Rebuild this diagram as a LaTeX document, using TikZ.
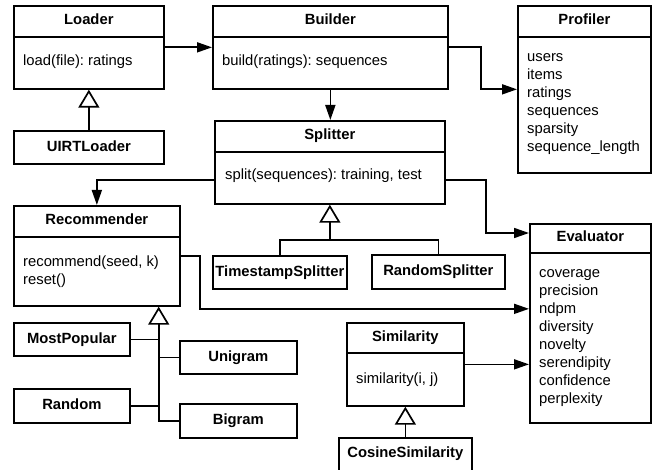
\documentclass[tikz,border=0pt]{standalone}
\usepackage{fontspec}
\setmainfont{Liberation Sans}
\frenchspacing
\usetikzlibrary{arrows.meta}
\begin{document}
\begin{tikzpicture}[x=1pt,y=-1pt,
  every node/.style={font=\fontsize{14.8}{18}\selectfont, inner sep=0pt},
  box/.style={draw, line width=1.7pt, rectangle, anchor=north west, font=\fontsize{14.8}{18}\selectfont\bfseries, text height=10.5pt, text depth=3pt},
  ttl/.style={font=\fontsize{14.8}{18}\selectfont\bfseries, text height=10.5pt, text depth=3pt},
  body/.style={align=left, anchor=base west},
  ln/.style={line width=1.7pt},
  arr/.style={line width=1.7pt, -{Triangle[length=15pt,width=10pt]}},
  inh/.style={line width=1.7pt, -{Triangle[open,length=18pt,width=21pt]}}]
\useasboundingbox (0,0) rectangle (652,470);
\clip (0,0) rectangle (652,470);
\fill[white] (0,0) rectangle (652,470);

% class boxes
\node[box, minimum width=150pt, minimum height=83pt] (loader) at (13,5) {};
\node[box, minimum width=235pt, minimum height=83pt] (builder) at (212,5) {};
\node[box, minimum width=133pt, minimum height=167pt] (profiler) at (517,5) {};
\node[box, minimum width=230pt, minimum height=83pt] (splitter) at (214,120) {};
\node[box, minimum width=166pt, minimum height=100pt] (recommender) at (13,205) {};
\node[box, minimum width=121pt, minimum height=199pt] (evaluator) at (529,223) {};
\node[box, minimum width=117pt, minimum height=83pt] (similarity) at (346,322) {};

% dividers
\draw[ln] ([yshift=-32pt]loader.north west) -- ([yshift=-32pt]loader.north east);
\draw[ln] ([yshift=-32pt]builder.north west) -- ([yshift=-32pt]builder.north east);
\draw[ln] ([yshift=-32pt]profiler.north west) -- ([yshift=-32pt]profiler.north east);
\draw[ln] ([yshift=-32pt]splitter.north west) -- ([yshift=-32pt]splitter.north east);
\draw[ln] ([yshift=-32pt]recommender.north west) -- ([yshift=-32pt]recommender.north east);
\draw[ln] ([yshift=-30pt]evaluator.north west) -- ([yshift=-30pt]evaluator.north east);
\draw[ln] ([yshift=-31pt]similarity.north west) -- ([yshift=-31pt]similarity.north east);

% titles
\node[ttl] (loaderT) at ([yshift=-16pt]loader.north) {Loader};
\node[ttl] (builderT) at ([yshift=-16pt]builder.north) {Builder};
\node[ttl] (profilerT) at ([yshift=-16pt]profiler.north) {Profiler};
\node[ttl] (splitterT) at ([yshift=-16pt]splitter.north) {Splitter};
\node[ttl] (recommenderT) at ([yshift=-16pt]recommender.north) {Recommender};
\node[ttl] (evaluatorT) at ([yshift=-15pt]evaluator.north) {Evaluator};
\node[ttl] (similarityT) at ([yshift=-15.5pt]similarity.north) {Similarity};

% bodies (multi-line nodes are anchored at the baseline of their last line)
\node[body] (loaderB) at (23,66) {load(file): ratings};
\node[body] (builderB) at (222,66) {build(ratings): sequences};
\node[body] (profilerB) at (527,152) {users\\items\\ratings\\sequences\\sparsity\\sequence\_length};
\node[body] (splitterB) at (225,180) {split(sequences): training, test};
\node[body] (recommenderB) at (23,284) {recommend(seed, k)\\reset()};
\node[body] (evaluatorB) at (539,403) {coverage\\precision\\ndpm\\diversity\\novelty\\serendipity\\confidence\\perplexity};
\node[body] (similarityB) at (356,383) {similarity(i, j)};

% simple boxes
\node[box, minimum width=150pt, minimum height=33pt] (uirt) at (13,130) {UIRTLoader};
\node[box, minimum width=134pt, minimum height=33pt] (ts) at (212,255) {TimestampSplitter};
\node[box, minimum width=133pt, minimum height=34pt] (rs) at (371,254) {RandomSplitter};
\node[box, minimum width=116pt, minimum height=33pt] (mostpop) at (13,322) {MostPopular};
\node[box, minimum width=117pt, minimum height=33pt] (unigram) at (179,340) {Unigram};
\node[box, minimum width=116pt, minimum height=34pt] (random) at (13,388) {Random};
\node[box, minimum width=117pt, minimum height=34pt] (bigram) at (179,403) {Bigram};
\node[box, minimum width=133pt, minimum height=40pt, text depth=10.5pt] (cosine) at (338,437) {CosineSimilarity};

% associations
\draw[arr] (loader.east) -- (builder.west);
\draw[arr] (builder.east) -- ++(32,0) |- (profiler.west);
\draw[arr] (builder.south) -- (builder.south |- splitter.north);
\draw[arr] ([yshift=-17.5pt]splitter.west) -| (recommender.north);
\draw[arr] ([yshift=-17.5pt]splitter.east) -| ([xshift=-43pt,yshift=-10pt]evaluator.north west) -- ([yshift=-10pt]evaluator.north west);
\draw[arr] (recommender.east) -- ++(19,0) |- ([yshift=14.5pt]evaluator.west);
\draw[arr] (similarity.east) -- (similarity.east -| evaluator.west);

% inheritance
\draw[inh] (uirt.north) -- (loader.south);
\coordinate (sjoin) at ([yshift=-35pt]splitter.south);
\draw[ln] (ts.north) |- (sjoin) -| (rs.north);
\draw[inh] (sjoin) -- (splitter.south);
\coordinate (rtri) at ([xshift=-22pt]recommender.south east);
\draw[inh] (bigram.west) -| (rtri);
\draw[ln] (mostpop.east) -- (mostpop.east -| rtri);
\draw[ln] (unigram.west) -- (unigram.west -| rtri);
\draw[ln] (random.east) -- (random.east -| rtri);
\draw[inh] (cosine.north) -- (similarity.south);
\end{tikzpicture}
\end{document}
